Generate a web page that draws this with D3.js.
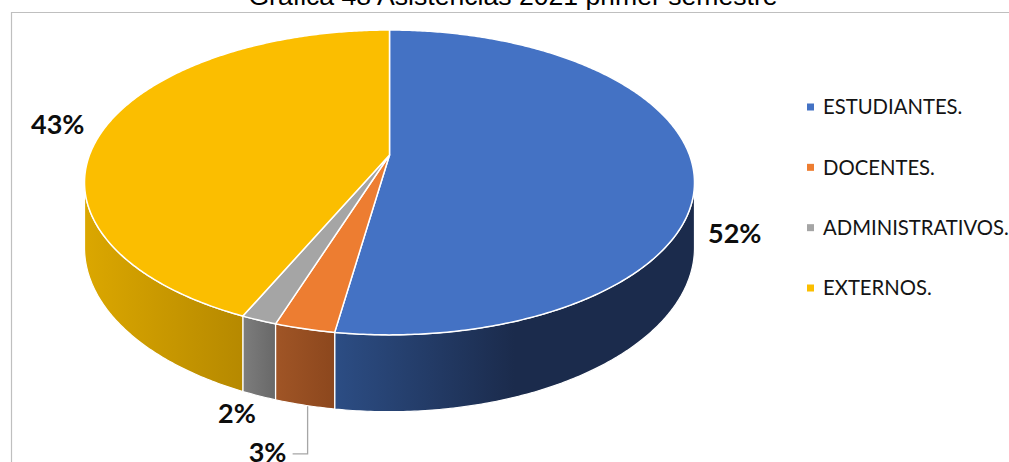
<!DOCTYPE html>
<html>
<head>
<meta charset="utf-8">
<script src="https://cdn.jsdelivr.net/npm/d3@7"></script>
<style>
  html, body { margin: 0; padding: 0; background: #ffffff; }
  svg { display: block; }
</style>
</head>
<body>
<svg id="chart" width="1009" height="462"></svg>
<script>
// ---- data ----
const title = "Gráfica 48 Asistencias 2021 primer semestre";
const categories = ["ESTUDIANTES.", "DOCENTES.", "ADMINISTRATIVOS.", "EXTERNOS."];
const values = [52.4, 2.7, 1.6, 43.3];
const percentLabels = ["52%", "3%", "2%", "43%"];

// ---- styles / layout ----
const topColors = ["#4472C4", "#ED7D31", "#A5A5A5", "#FBBE00"];
const sideColors = [["#2c4d84", "#1b2b4c"], ["#a05526", "#8c471d"], ["#7d7d7d", "#686868"], ["#dba700", "#b68900"]];
const W = 1009, H = 462;
const cx = 389.5, cy = 155, ra = 300, rb = 147.5, persp = 0.18, depth = 63;
// label offsets relative to projected slice mid-point on the rim
const labelOffsets = [[42, 77], [-37, 133], [-22, 103], [-49, 9]];

const svg = d3.select("#chart");
svg.append("rect").attr("width", W).attr("height", H).attr("fill", "#fff");

// frame
svg.append("path")
  .attr("d", d3.line()([[11.5, H], [11.5, 12.5], [W, 12.5]]))
  .attr("fill", "none").attr("stroke", "#bfbfbf").attr("stroke-width", 1.2);

// title
svg.append("text")
  .attr("x", 513).attr("y", 4.5)
  .attr("text-anchor", "middle")
  .attr("font-family", "'Liberation Sans', Arial, sans-serif")
  .attr("font-size", 26.6)
  .attr("fill", "#000")
  .text(title);

// projection of a point on the tilted disc (theta clockwise from 12 o'clock)
function proj(theta, r = 1, drop = 0) {
  const z = -Math.cos(theta) * r;
  const s = 1 / (1 - persp * z);
  return [cx + ra * r * Math.sin(theta) * s, cy + rb * z * s + drop * depth * s];
}
function arcPts(t0, t1, r, drop) {
  const n = Math.max(2, Math.ceil(Math.abs(t1 - t0) / 0.01));
  return d3.range(n + 1).map(i => proj(t0 + (t1 - t0) * i / n, r, drop));
}

const arcs = d3.pie().sort(null).value(d => d)(values);
const visA = Math.acos(-persp), visB = 2 * Math.PI - Math.acos(-persp);
const defs = svg.append("defs");
const line = d3.line();

// sides
const gSide = svg.append("g");
arcs.forEach((a, i) => {
  const t0 = Math.max(a.startAngle, visA), t1 = Math.min(a.endAngle, visB);
  if (t1 <= t0) return;
  const top = arcPts(t0, t1, 1, 0);
  const bot = arcPts(t1, t0, 1, 1);
  const pts = top.concat(bot);
  const xs = pts.map(p => p[0]);
  const gid = "side" + i;
  const grad = defs.append("linearGradient").attr("id", gid)
    .attr("gradientUnits", "userSpaceOnUse")
    .attr("x1", d3.min(xs)).attr("x2", d3.max(xs)).attr("y1", 0).attr("y2", 0);
  grad.append("stop").attr("offset", 0).attr("stop-color", sideColors[i][0]);
  grad.append("stop").attr("offset", i === 0 ? 0.5 : 1).attr("stop-color", sideColors[i][1]);
  grad.append("stop").attr("offset", 1).attr("stop-color", sideColors[i][1]);
  gSide.append("path")
    .attr("d", line(pts) + "Z")
    .attr("fill", `url(#${gid})`)
    .attr("stroke", "#ffffff").attr("stroke-width", 1.2).attr("stroke-linejoin", "round");
});

// top faces
const gTop = svg.append("g");
arcs.forEach((a, i) => {
  const pts = [proj(0, 0)].concat(arcPts(a.startAngle, a.endAngle, 1, 0));
  gTop.append("path")
    .attr("d", line(pts) + "Z")
    .attr("fill", topColors[i])
    .attr("stroke", "#ffffff").attr("stroke-width", 1.5).attr("stroke-linejoin", "round");
});

// data labels
const gLab = svg.append("g");
arcs.forEach((a, i) => {
  const mid = (a.startAngle + a.endAngle) / 2;
  const p = proj(mid, 1, 0);
  const lx = p[0] + labelOffsets[i][0], ly = p[1] + labelOffsets[i][1];
  gLab.append("text")
    .attr("x", lx).attr("y", ly)
    .attr("text-anchor", "middle")
    .attr("font-family", "Lato, 'Open Sans', sans-serif")
    .attr("font-weight", "bold")
    .attr("font-size", 27)
    .attr("fill", "#0d0d0d")
    .text(percentLabels[i]);
  if (i === 1) {
    const b = proj(mid, 1, 1);
    gLab.append("path")
      .attr("d", line([[b[0] + 3, b[1] + 1], [b[0] + 3, ly - 8], [lx + 25, ly - 8]]))
      .attr("fill", "none").attr("stroke", "#a6a6a6").attr("stroke-width", 1.3);
  }
});

// legend
const rowY = d3.scaleLinear().domain([0, 3]).range([107, 288]);
const gLeg = svg.append("g");
categories.forEach((c, i) => {
  gLeg.append("rect")
    .attr("x", 807).attr("y", rowY(i) - 3.5).attr("width", 7).attr("height", 7)
    .attr("fill", topColors[i]);
  gLeg.append("text")
    .attr("x", 823).attr("y", rowY(i) + 7.3)
    .attr("font-family", "Lato, 'Open Sans', sans-serif")
    .attr("font-size", 20.3)
    .attr("fill", "#141414")
    .text(c);
});
</script>
</body>
</html>
